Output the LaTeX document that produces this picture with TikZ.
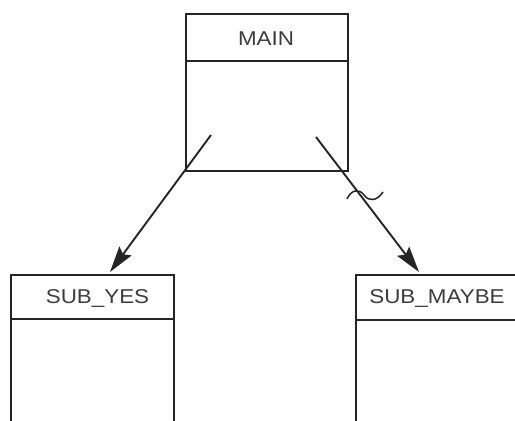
\documentclass[tikz,border=0pt]{standalone}
\usepackage{fontspec}
\setmainfont{Liberation Sans}
\usetikzlibrary{arrows.meta}
\definecolor{ink}{HTML}{252525}
\definecolor{label}{HTML}{3C3C3C}
\tikzset{
  modbox/.style={draw=ink, line width=1.9pt, rectangle, inner sep=0pt},
  divider/.style={draw=ink, line width=1.9pt},
  modname/.style={text=label, inner sep=0pt, font=\fontsize{20}{22}\selectfont},
  callarrow/.style={draw=ink, line width=1.9pt,
    -{Stealth[length=26pt, width=15pt, inset=4pt]}},
  tildemark/.style={draw=ink, line width=1.5pt}
}
\newcommand{\widename}[1]{\scalebox{1.12}[1]{#1}}
\begin{document}
\begin{tikzpicture}[x=1pt, y=-1pt]
  \useasboundingbox (0,0) rectangle (515,421);
  \clip (0,0) rectangle (515,421);

  % MAIN module
  \node[modbox, minimum width=162pt, minimum height=157pt, anchor=north west] (main) at (185,13) {};
  \draw[divider] (185,61) -- (347,61);
  \node[modname] (mainname) at (266,38.5) {\widename{MAIN}};

  % SUB_YES module (runs past the lower edge)
  \node[modbox, minimum width=163pt, minimum height=170pt, anchor=north west] (subyes) at (10,274) {};
  \draw[divider] (10,319) -- (173,319);
  \node[modname] (yesname) at (97.5,298.5) {\widename{SUB\_YES}};

  % SUB_MAYBE module (runs past the right and lower edges)
  \node[modbox, minimum width=180pt, minimum height=170pt, anchor=north west] (submaybe) at (355,274) {};
  \draw[divider] (355,320) -- (535,320);
  \node[modname] (maybename) at (437,298.5) {\widename{SUB\_MAYBE}};

  % call arrows, starting inside MAIN
  \coordinate (yesstart) at (211,135);
  \coordinate (yestip) at (110,272);
  \coordinate (maybestart) at (316,137);
  \coordinate (maybetip) at (419,272);
  \draw[callarrow] (yesstart) -- (yestip);
  \draw[callarrow] (maybestart) -- (maybetip);

  % conditional-call tilde across the right arrow
  \draw[tildemark] (347,199) .. controls (351,190) and (359,188) .. (364,195)
                   .. controls (369,202) and (377,201) .. (383,192);
\end{tikzpicture}
\end{document}
